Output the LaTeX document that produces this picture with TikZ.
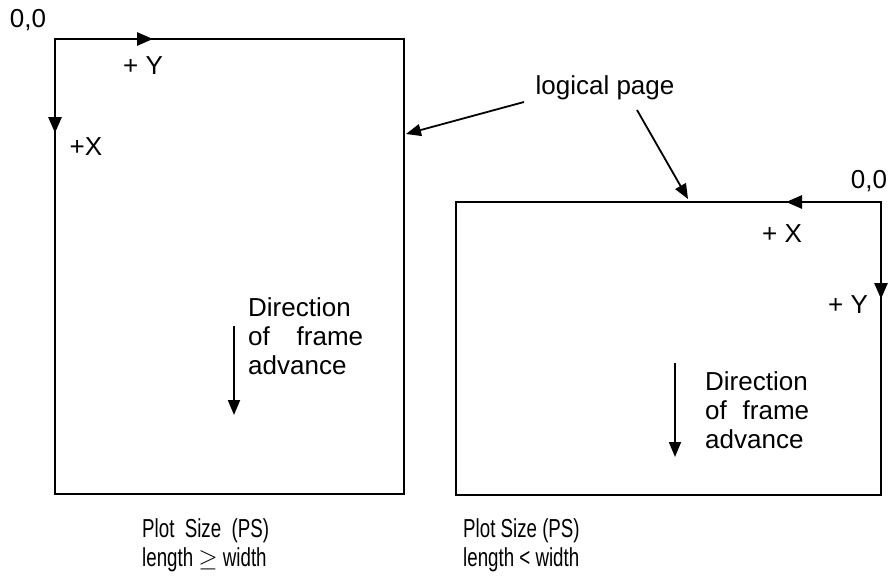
\documentclass[tikz,border=0pt]{standalone}
\usepackage{fontspec}
\setmainfont{Liberation Sans}
\newfontfamily\capfont[FakeStretch=0.72]{Liberation Sans}
\usetikzlibrary{arrows.meta}
\tikzset{
  page/.style={line width=1.8pt},
  axis/.style={line width=2.8pt,-{Triangle[length=16pt,width=13pt]}},
  pointer/.style={line width=1.8pt,-{Triangle[length=15pt,width=12pt]}},
  lbl/.style={inner sep=0pt,anchor=base,font=\fontsize{26}{29}\selectfont},
  para/.style={inner sep=0pt,anchor=base west,align=left,text width=#1,font=\fontsize{26}{29}\selectfont},
  captext/.style={inner sep=0pt,anchor=base west,font=\fontsize{26}{29}\capfont}
}
\begin{document}
\begin{tikzpicture}[x=1pt,y=-1pt]
\useasboundingbox (0,0) rectangle (895,578);
% left page
\coordinate (L1) at (55,39);
\coordinate (L2) at (404,494);
\draw[page] (L1) rectangle (L2);
\coordinate (LY) at (153,39);
\coordinate (LX) at (55,133);
\draw[axis] (L1) -- (LY);
\draw[axis] (L1) -- (LX);
\node[lbl] (l00) at (28,28) {0,0};
\node[lbl] (lyl) at (143,75) {+ Y};
\node[lbl] (lxl) at (86,155) {+X};
% right page
\coordinate (R1) at (456,202);
\coordinate (R2) at (881,495);
\draw[page] (R1) rectangle (R2);
\coordinate (RC) at (881,202);
\coordinate (RX) at (786,202);
\coordinate (RY) at (881,299);
\draw[axis] (RC) -- (RX);
\draw[axis] (RC) -- (RY);
\node[lbl] (r00) at (869,188) {0,0};
\node[lbl] (rxl) at (782,242) {+ X};
\node[lbl] (ryl) at (848,313) {+ Y};
% logical page
\node[lbl] (lp) at (605,95) {logical page};
\coordinate (lpa) at (524,102);
\coordinate (lpb) at (406,134);
\coordinate (lpc) at (637,110);
\coordinate (lpd) at (688,199);
\draw[pointer] (lpa) -- (lpb);
\draw[pointer] (lpc) -- (lpd);
% direction of frame advance
\coordinate (da1) at (234,326);
\coordinate (da2) at (234,415);
\draw[pointer] (da1) -- (da2);
\node[para=115pt] (dl) at (248,316) {Direction\\of\hfill frame\\advance};
\coordinate (db1) at (675,363);
\coordinate (db2) at (675,457);
\draw[pointer] (db1) -- (db2);
\node[para=104pt] (dr) at (705,390) {Direction\\of\hfill frame\\advance};
% captions
\node[captext] (cl1) at (142,537) {Plot\ \ Size\ \ (PS)};
\node[captext] (cl2) at (142,566) {length $\geq$ width};
\node[captext] (cr1) at (463,537) {Plot Size (PS)};
\node[captext] (cr2) at (463,566) {length < width};
\end{tikzpicture}
\end{document}
